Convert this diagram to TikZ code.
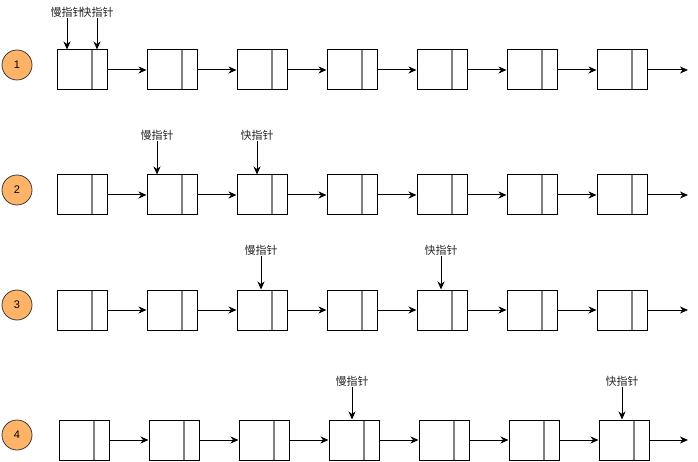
\documentclass[tikz,border=0pt]{standalone}
\usepackage{fontspec}
\setmainfont{Liberation Sans}
\newfontfamily\cjk{Noto Sans CJK SC}
\usetikzlibrary{arrows.meta, positioning}

\definecolor{stepfill}{RGB}{255,179,102}
\definecolor{stepline}{RGB}{60,60,60}

\begin{document}
\begin{tikzpicture}[
      x=1pt, y=-1pt,
      cell/.style={draw, line width=1pt, minimum width=50pt, minimum height=40pt,
                   inner sep=0pt,
                   path picture={\draw[gray, line width=2pt]
                     ([xshift=35pt]path picture bounding box.north west) --
                     ([xshift=35pt]path picture bounding box.south west);}},
      stepno/.style={circle, draw=stepline, fill=stepfill, line width=0.8pt,
                     minimum size=30pt, inner sep=0pt, font=\fontsize{11}{13}\selectfont},
      ptr/.style={font=\cjk\fontsize{11}{13}\selectfont, text=black!85, inner sep=1pt},
      link/.style={-{Stealth[length=8pt, width=7pt, inset=2.5pt]}, line width=1pt}
    ]
    \useasboundingbox (0,0) rectangle (698,462);

    % four rows of the list
    \foreach \r/\y/\bx in {1/70/82, 2/195/82, 3/310/82, 4/440/84} {
      \node[stepno] (c\r) at (17,\y-5) {\r};
      \foreach \i in {1,...,7}
        \node[cell] (n\r-\i) at ({\bx+90*(\i-1)},\y) {};
      \foreach \i [evaluate=\i as \j using int(\i+1)] in {1,...,6}
        \draw[link] (n\r-\i) -- (n\r-\j);
      \coordinate (e\r) at (688,\y);
      \draw[link] (n\r-7) -- (e\r);
    }

    % pointers
    \node[ptr] (slow1) at (67,12)  {慢指针};
    \node[ptr] (fast1) at (97,12)  {快指针};
    \node[ptr] (slow2) at (157,135) {慢指针};
    \node[ptr] (fast2) at (257,135) {快指针};
    \node[ptr] (slow3) at (261,250) {慢指针};
    \node[ptr] (fast3) at (441,250) {快指针};
    \node[ptr] (slow4) at (352,381) {慢指针};
    \node[ptr] (fast4) at (622,381) {快指针};

    \draw[link] (slow1) -- (slow1 |- n1-1.north);
    \draw[link] (fast1) -- (fast1 |- n1-1.north);
    \draw[link] (slow2) -- (slow2 |- n2-2.north);
    \draw[link] (fast2) -- (fast2 |- n2-3.north);
    \draw[link] (slow3) -- (slow3 |- n3-3.north);
    \draw[link] (fast3) -- (fast3 |- n3-5.north);
    \draw[link] (slow4) -- (slow4 |- n4-4.north);
    \draw[link] (fast4) -- (fast4 |- n4-7.north);
\end{tikzpicture}
\end{document}
